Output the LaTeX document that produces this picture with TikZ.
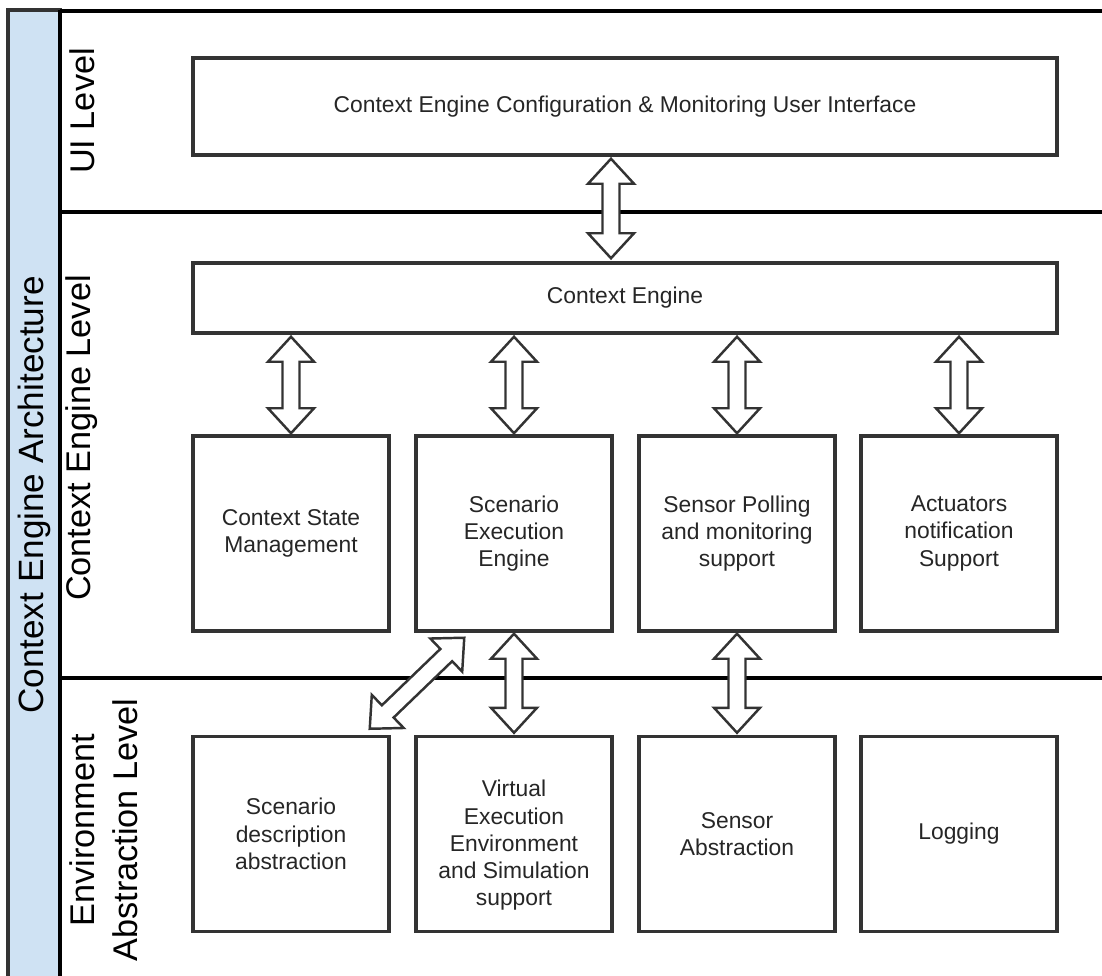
\documentclass[tikz,border=0pt]{standalone}
\usepackage{fontspec}
\setmainfont{Liberation Sans}
\usepackage{xcolor}
\usepackage{tikz}
\usetikzlibrary{calc, positioning}

\definecolor{bandblue}{HTML}{CFE2F3}
\definecolor{edgegray}{HTML}{333333}

% hollow double arrow between two named points
\newcommand{\twoway}[2]{%
  \draw[dbl] (#1)
    -- ($(#1)!0.5cm!(#2)!0.46cm!90:(#2)$)
    -- ($(#1)!0.5cm!(#2)!0.17cm!90:(#2)$)
    -- ($(#2)!0.5cm!(#1)!0.17cm!-90:(#1)$)
    -- ($(#2)!0.5cm!(#1)!0.46cm!-90:(#1)$)
    -- (#2)
    -- ($(#2)!0.5cm!(#1)!0.46cm!90:(#1)$)
    -- ($(#2)!0.5cm!(#1)!0.17cm!90:(#1)$)
    -- ($(#1)!0.5cm!(#2)!0.17cm!-90:(#2)$)
    -- ($(#1)!0.5cm!(#2)!0.46cm!-90:(#2)$)
    -- cycle;}

\begin{document}
\begin{tikzpicture}[
  x=0.02cm, y=-0.02cm,
  font=\fontsize{13}{15.5}\selectfont,
  box/.style={draw=edgegray, line width=2pt, fill=white, text=black!85, align=center},
  wide/.style={box, minimum width=17.28cm},
  unit/.style={box, minimum width=3.92cm, minimum height=3.9cm},
  lanelabel/.style={rotate=90, align=center, font=\fontsize{19.5}{24.5}\selectfont},
  lane/.style={line width=2.5pt, black},
  dbl/.style={draw=edgegray, fill=white, line width=1.4pt, line join=miter}
]
  \useasboundingbox (0,0) rectangle (1102,976);

  \draw[draw=edgegray, fill=bandblue, line width=2.3pt] (8,10) rectangle (60,990);
  \node[lanelabel, font=\fontsize{20}{24}\selectfont] (arch) at (34,495) {Context Engine Architecture};

  \draw[lane] (60,11) -- (1110,11);
  \draw[lane] (60,212) -- (1110,212);
  \draw[lane] (60,678) -- (1110,678);
  \draw[lane] (60,10) -- (60,990);

  \node[lanelabel] (uilvl) at (82,111) {UI Level};
  \node[lanelabel] (celvl) at (82,438) {Context Engine Level};
  \node[lanelabel] (envlvl) at (104,830) {Environment\\Abstraction Level};

  \node[wide, minimum height=1.94cm] (ui) at (625,106.5) {Context Engine Configuration \& Monitoring User Interface};
  \node[wide, minimum height=1.4cm] (ce) at (625,298) {Context Engine};

  \node[unit] (csm) at (291,533.5) {Context State\\Management};
  \node[unit] (see) at (514,533.5) {Scenario\\Execution\\Engine};
  \node[unit] (spm) at (737,533.5) {Sensor Polling\\and monitoring\\support};
  \node[unit] (ans) at (959,533.5) {Actuators\\notification\\Support};

  \node[unit] (sda) at (291,834) {Scenario\\description\\abstraction};
  \node[unit] (vee) at (514,834) {\mbox{}\\[7pt]Virtual\\Execution\\Environment\\and Simulation\\support};
  \node[unit] (sab) at (737,834) {Sensor\\Abstraction};
  \node[unit] (log) at (959,834) {Logging};

  \coordinate (a1) at ($(ui.south)+(-14,2)$);
  \coordinate (a2) at ($(ce.north)+(-14,-3)$);
  \twoway{a1}{a2}

  \foreach \b in {csm, see, spm, ans} {
    \coordinate (t\b) at ($(\b.north |- ce.south)+(0,2)$);
    \coordinate (h\b) at ($(\b.north)+(0,-1)$);
    \twoway{t\b}{h\b}
  }

  \coordinate (b1) at ($(see.south)+(0,1)$);
  \coordinate (b2) at ($(vee.north)+(0,-2)$);
  \twoway{b1}{b2}
  \coordinate (c1) at ($(spm.south)+(0,1)$);
  \coordinate (c2) at ($(sab.north)+(0,-2)$);
  \twoway{c1}{c2}

  \coordinate (d1) at ($(see.south west)+(50,5)$);
  \coordinate (d2) at ($(sda.north east)+(-21,-6)$);
  \twoway{d1}{d2}
\end{tikzpicture}
\end{document}
